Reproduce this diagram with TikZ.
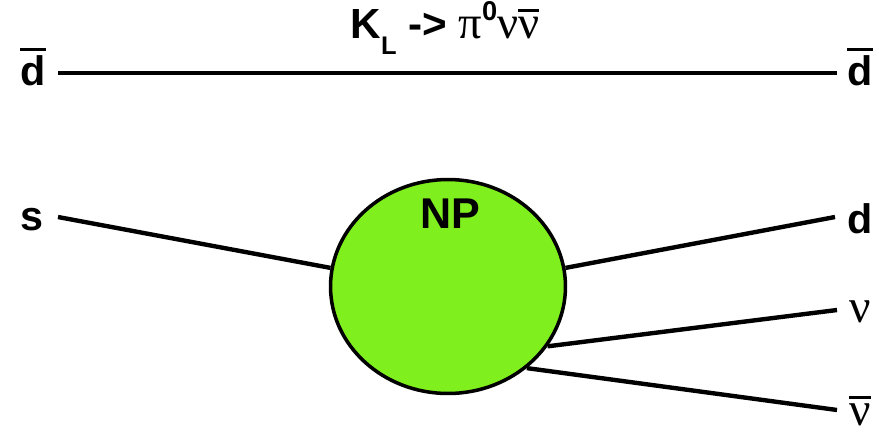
\documentclass[tikz,border=0pt]{standalone}
\usepackage{fontspec}
\setmainfont{Liberation Sans}
\newfontfamily\greekfont{Liberation Serif}
\usepackage{tikz}
\usetikzlibrary{shapes.geometric}
\definecolor{npgreen}{RGB}{127,239,30}
\newcommand{\ovbar}[1]{\vbox{\hrule height 1.6pt\kern 2.5pt\hbox{#1}}}

\begin{document}
\begin{tikzpicture}[
x=0.02cm,y=-0.02cm,
lbl/.style={font=\fontsize{23.5}{24}\selectfont\bfseries,inner sep=0pt,anchor=base},
nulbl/.style={font=\fontsize{27}{28}\selectfont\greekfont,inner sep=0pt,anchor=base},
leg/.style={line width=2.5pt},
blob/.style={ellipse,draw,line width=2pt,fill=npgreen,minimum width=4.7cm,minimum height=4.28cm,inner sep=0pt}
]
\useasboundingbox (0,0) rectangle (879,433);
% title
\node[inner sep=0pt,anchor=base] (title) at (445,38) {\fontsize{24}{24}\selectfont\bfseries K\raisebox{-0.38em}{\fontsize{14.5}{14.5}\selectfont L} -> {\mdseries\greekfont\fontsize{26.5}{26.5}\selectfont π}\raisebox{0.42em}{\fontsize{15.5}{15.5}\selectfont 0}{\mdseries\greekfont\fontsize{26.5}{26.5}\selectfont ν\ovbar{ν}}};
% quark and neutrino labels
\node[lbl] (dbarL) at (33,85) {\ovbar{d}};
\node[lbl] (dbarR) at (860,85) {\ovbar{d}};
\node[lbl] (s) at (32,230) {s};
\node[lbl] (d) at (860,233) {d};
\node[nulbl] (nu) at (860,322) {ν};
\node[nulbl] (nubar) at (860,425) {\ovbar{ν}};
% new physics blob
\node[blob] (np) at (448,286.5) {};
\node[font=\fontsize{24.5}{25}\selectfont\bfseries,inner sep=0pt,anchor=base] (nptext) at (450,228) {NP};
% free ends of the lines
\coordinate (topL) at (58,73);
\coordinate (topR) at (837,73);
\coordinate (sEnd) at (58,217);
\coordinate (dEnd) at (835,217);
\coordinate (nuEnd) at (837,310);
\coordinate (nubarEnd) at (837,410);
\draw[leg] (topL) -- (topR);
\draw[leg] (sEnd) -- (np.171);
\draw[leg] (np.9.5) -- (dEnd);
\draw[leg] (np.-31.6) -- (nuEnd);
\draw[leg] (np.-46.6) -- (nubarEnd);
\end{tikzpicture}
\end{document}
